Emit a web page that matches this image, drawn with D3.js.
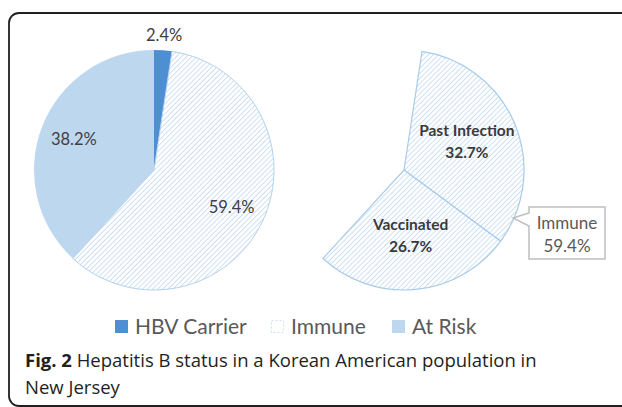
<!DOCTYPE html>
<html><head><meta charset="utf-8">
<script src="https://cdn.jsdelivr.net/npm/d3@7"></script>
<style>body{margin:0;background:#fff}</style>
</head><body>
<svg id="c" width="622" height="407"></svg>
<script>
const categories = ["HBV Carrier", "Immune", "At Risk"];
const values = [2.4, 59.4, 38.2];
const immuneParts = ["Past Infection", "Vaccinated"];
const immuneValues = [32.7, 26.7];
const captionBold = "Fig. 2";
const captionLine1 = " Hepatitis B status in a Korean American population in";
const captionLine2 = "New Jersey";

const svg = d3.select("#c");
const defs = svg.append("defs");
const pat = defs.append("pattern").attr("id", "hatch")
  .attr("patternUnits", "userSpaceOnUse").attr("width", 3.6).attr("height", 3.6)
  .attr("patternTransform", "rotate(45)");
pat.append("rect").attr("width", 3.6).attr("height", 3.6).attr("fill", "#fff");
pat.append("line").attr("x1", 0).attr("y1", 0).attr("x2", 0).attr("y2", 3.6)
  .attr("stroke", "#b3d1ee").attr("stroke-width", 1.3);

const fills = ["#4e8fd3", "url(#hatch)", "#bdd7ee"];
const labelFont = "Lato, 'Open Sans', sans-serif";
const textColor = "#404040";

// frame
svg.append("rect").attr("x", 9).attr("y", 13).attr("width", 640).attr("height", 393)
  .attr("rx", 10).attr("fill", "none").attr("stroke", "#231f20").attr("stroke-width", 1.8);

const R = 120;
const pie = d3.pie().sort(null).value(d => d);
const arc = d3.arc().innerRadius(0).outerRadius(R);

// left pie
const left = svg.append("g").attr("transform", "translate(154,170)");
const arcsL = pie(values);
left.selectAll("path").data(arcsL).join("path")
  .attr("d", arc)
  .attr("fill", (d, i) => fills[i])
  .attr("stroke", (d, i) => i === 1 ? "#b3d1ee" : "none")
  .attr("stroke-width", 1);
const lblIn = d3.arc().innerRadius(86).outerRadius(86);
const lblOut = d3.arc().innerRadius(135).outerRadius(135);
left.selectAll("text").data(arcsL).join("text")
  .attr("transform", (d, i) => `translate(${(i === 0 ? lblOut : lblIn).centroid(d)})`)
  .attr("text-anchor", "middle").attr("dy", "0.35em")
  .attr("font-family", labelFont).attr("font-size", 16.5).attr("fill", textColor)
  .text(d => d.value.toFixed(1) + "%");

// right exploded immune pie
const right = svg.append("g").attr("transform", "translate(404,170)");
const arcsR = pie([values[0], ...immuneValues, values[2]]).slice(1, 3);
right.selectAll("path").data(arcsR).join("path")
  .attr("d", arc).attr("fill", "url(#hatch)")
  .attr("stroke", "#a9cbea").attr("stroke-width", 1.2);
const lblR = d3.arc().innerRadius(68).outerRadius(68);
const rl = right.selectAll("text").data(arcsR).join("text")
  .attr("transform", d => `translate(${lblR.centroid(d)})`)
  .attr("text-anchor", "middle")
  .attr("font-family", labelFont).attr("font-size", 15.5).attr("font-weight", 700).attr("fill", "#3a3a3a");
rl.append("tspan").attr("x", 0).attr("y", -8).text((d, i) => immuneParts[i]);
rl.append("tspan").attr("x", 0).attr("y", 14).text(d => d.value.toFixed(1) + "%");

// callout
const co = svg.append("g");
co.append("path")
  .attr("d", "M529,207 L605,207 L605,259 L529,259 L529,226 L513,218 L529,213 Z")
  .attr("fill", "#fff").attr("stroke", "#bfbfbf").attr("stroke-width", 1.5);
const ct = co.append("text").attr("text-anchor", "middle")
  .attr("font-family", labelFont).attr("font-size", 17).attr("fill", "#595959");
ct.append("tspan").attr("x", 567).attr("y", 229).text(categories[1]);
ct.append("tspan").attr("x", 567).attr("y", 252).text(values[1].toFixed(1) + "%");

// legend
const legX = [115, 271, 392];
const lg = svg.append("g");
categories.forEach((c, i) => {
  const g = lg.append("g").attr("transform", `translate(${legX[i]},320)`);
  if (i === 1) {
    g.append("rect").attr("x", 0.5).attr("y", 0.5).attr("width", 12).attr("height", 12)
      .attr("fill", "#fff").attr("stroke", "#cfe1f3").attr("stroke-width", 1.2)
      .attr("stroke-dasharray", "2,2");
  } else {
    g.append("rect").attr("width", 13).attr("height", 13).attr("fill", fills[i]);
  }
  g.append("text").attr("x", 20).attr("y", 14)
    .attr("font-family", labelFont).attr("font-size", 21).attr("fill", "#595959")
    .text(c);
});

// caption
const capFont = "'Open Sans', sans-serif";
const cap = svg.append("text").attr("x", 25).attr("y", 367)
  .attr("font-family", capFont).attr("font-size", 18.5).attr("fill", "#231f20");
cap.append("tspan").attr("font-weight", 700).text(captionBold);
cap.append("tspan").text(captionLine1);
svg.append("text").attr("x", 25).attr("y", 394)
  .attr("font-family", capFont).attr("font-size", 18.5).attr("fill", "#231f20")
  .text(captionLine2);
</script>
</body></html>
